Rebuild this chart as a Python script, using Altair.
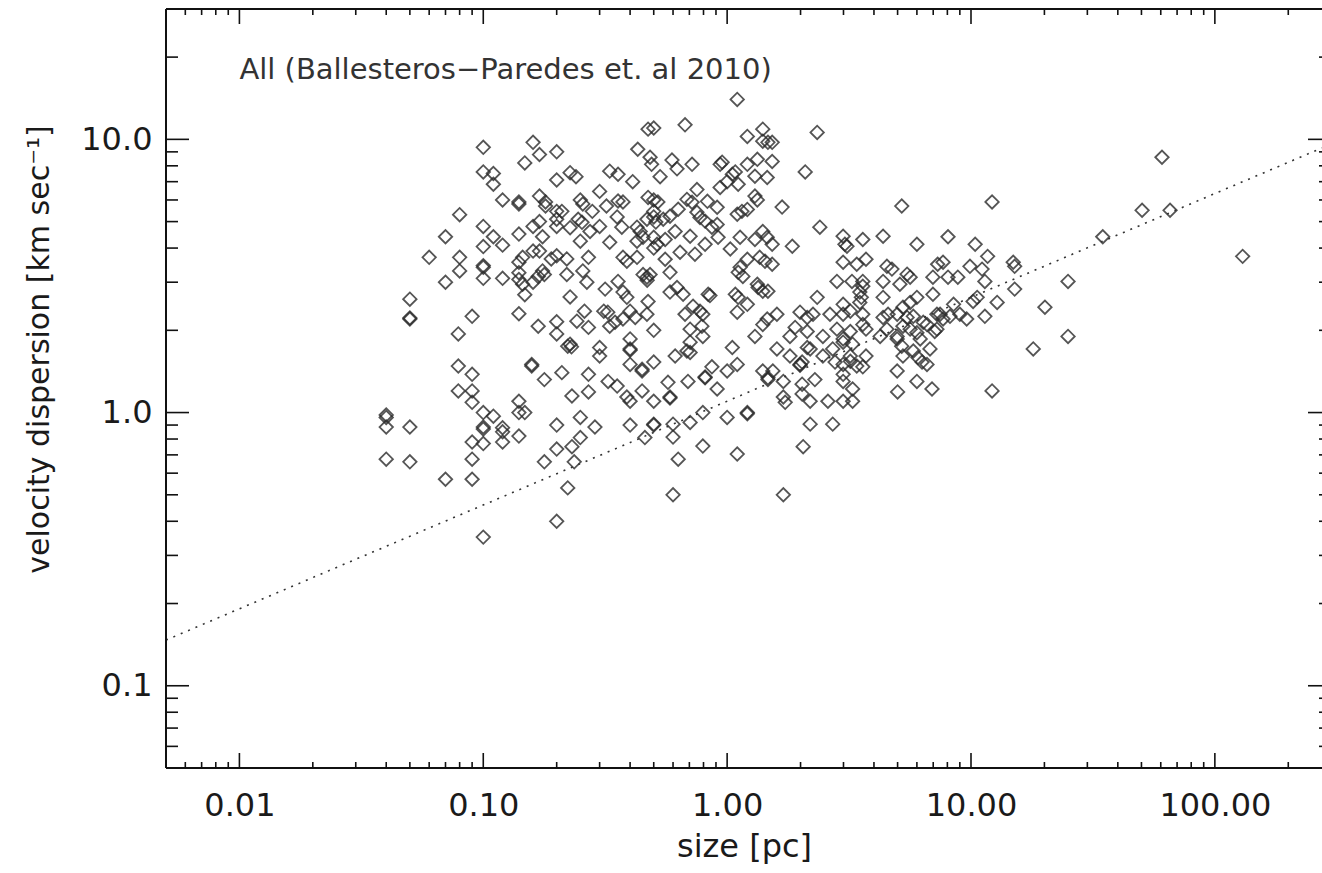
import altair as alt
import pandas as pd

# Molecular-cloud size / linewidth measurements: (size [pc], sigma [km/s])
clouds_sub_01pc = [
    (0.04, 0.98), (0.04, 0.96), (0.04, 0.885), (0.04, 0.675),
    (0.05, 2.6), (0.05, 2.22), (0.05, 2.2), (0.05, 0.885), (0.05, 0.66),
    (0.06, 3.7), (0.07, 4.4), (0.07, 3.0), (0.07, 0.57),
    (0.08, 5.3), (0.08, 3.7), (0.08, 3.3), (0.079, 1.94), (0.079, 1.48), (0.079, 1.2),
    (0.09, 1.2), (0.09, 1.09), (0.09, 1.38), (0.09, 2.25), (0.09, 0.78), (0.09, 0.675), (0.09, 0.57),
]

clouds_01_03pc = [
    (0.1, 9.35), (0.1, 7.6), (0.1, 4.8), (0.1, 4.05), (0.1, 3.45), (0.1, 3.4), (0.1, 3.1),
    (0.1, 1.0), (0.1, 0.885), (0.1, 0.87), (0.1, 0.77), (0.1, 0.35),
    (0.11, 7.5), (0.11, 6.85), (0.11, 4.4), (0.12, 4.1), (0.11, 0.97), (0.12, 6.0), (0.12, 3.1),
    (0.12, 0.88), (0.12, 0.85), (0.12, 0.78),
    (0.14, 5.9), (0.14, 5.8), (0.14, 4.5), (0.14, 3.55), (0.145, 3.7), (0.14, 3.25), (0.14, 3.07),
    (0.145, 2.95), (0.14, 2.3), (0.14, 1.1), (0.14, 1.0), (0.148, 1.0), (0.14, 0.82), (0.148, 8.2),
    (0.148, 2.7),
    (0.16, 9.75), (0.16, 4.8), (0.16, 3.9), (0.16, 3.0), (0.158, 1.48), (0.158, 1.5),
    (0.17, 8.8), (0.17, 6.2), (0.18, 5.9), (0.18, 5.7), (0.17, 5.0), (0.175, 4.4), (0.17, 3.9),
    (0.175, 3.3), (0.168, 3.15), (0.178, 3.2), (0.168, 2.07), (0.178, 1.32), (0.178, 0.66),
    (0.19, 3.65), (0.2, 9.0), (0.2, 7.1), (0.2, 5.45), (0.2, 5.1), (0.2, 4.8), (0.2, 3.75),
    (0.2, 2.15), (0.2, 1.94), (0.2, 0.9), (0.2, 0.735), (0.2, 0.4),
    (0.21, 5.45), (0.21, 1.4), (0.22, 3.2), (0.22, 3.65), (0.227, 7.55), (0.24, 7.3), (0.227, 4.75),
    (0.227, 2.65), (0.227, 1.78), (0.222, 1.75), (0.23, 1.74),
    (0.245, 5.1), (0.254, 4.97), (0.25, 6.0), (0.256, 5.8), (0.242, 2.16), (0.231, 1.15),
    (0.25, 4.24), (0.25, 0.96), (0.25, 0.81), (0.231, 0.75), (0.236, 0.66), (0.222, 0.53),
    (0.256, 3.3), (0.266, 3.0), (0.26, 2.35), (0.27, 3.7), (0.27, 2.05), (0.27, 1.38), (0.27, 1.19),
    (0.274, 4.6), (0.28, 5.45), (0.287, 0.885),
]

clouds_03_1pc = [
    (0.3, 6.45), (0.3, 4.8), (0.316, 2.83), (0.312, 2.35), (0.324, 2.33), (0.3, 1.73), (0.3, 1.61),
    (0.32, 5.7), (0.325, 1.3), (0.33, 7.65), (0.33, 4.2), (0.33, 2.07), (0.347, 2.14), (0.354, 5.2),
    (0.354, 1.25), (0.357, 7.45), (0.357, 5.95), (0.374, 5.9), (0.357, 3.02), (0.37, 4.77),
    (0.374, 3.7), (0.388, 3.58), (0.374, 2.76), (0.388, 2.64), (0.374, 2.2), (0.388, 1.14),
    (0.4, 1.1), (0.4, 2.35), (0.4, 1.86), (0.4, 1.71), (0.4, 1.69), (0.4, 1.5), (0.4, 0.9),
    (0.41, 7.0), (0.42, 2.23), (0.427, 4.77), (0.44, 4.6), (0.427, 4.24), (0.452, 4.38),
    (0.427, 3.7), (0.43, 9.2), (0.448, 1.44), (0.448, 1.42), (0.448, 1.2), (0.452, 3.2),
    (0.469, 3.13), (0.483, 3.2), (0.47, 3.05), (0.46, 0.81), (0.469, 5.1), (0.5, 5.2), (0.51, 4.98),
    (0.469, 2.29), (0.474, 10.9), (0.5, 11.0), (0.483, 8.6), (0.49, 8.1), (0.474, 6.13), (0.5, 6.0),
    (0.474, 2.55), (0.5, 4.38), (0.5, 4.0), (0.516, 4.13), (0.557, 4.3), (0.5, 2.0), (0.5, 1.53),
    (0.5, 1.1), (0.5, 0.907), (0.5, 0.9), (0.5, 5.45), (0.52, 5.9),
    (0.672, 11.3), (0.594, 8.4), (0.623, 7.8), (0.531, 7.3), (0.718, 8.1), (0.936, 8.1),
    (0.954, 8.25), (0.936, 6.67), (0.752, 6.55), (0.684, 6.03), (0.718, 5.89), (0.83, 5.93),
    (0.91, 5.64), (0.63, 5.55), (0.583, 5.23), (0.547, 5.1), (0.752, 5.41), (0.774, 5.18),
    (0.812, 5.02), (0.866, 4.77), (0.91, 4.88), (0.612, 4.6), (0.705, 4.42), (0.812, 4.13),
    (0.918, 4.38), (0.557, 3.64), (0.641, 3.86), (0.738, 3.8), (0.583, 3.26), (0.583, 2.76),
    (0.623, 2.87), (0.66, 2.71), (0.836, 2.71), (0.85, 2.68), (0.725, 2.45), (0.774, 2.35),
    (0.795, 2.29), (0.672, 2.29), (0.705, 2.02), (0.788, 2.07), (0.795, 1.9), (0.705, 1.81),
    (0.684, 1.68), (0.705, 1.66), (0.612, 1.61), (0.866, 1.47), (0.812, 1.35), (0.812, 1.34),
    (0.572, 1.29), (0.691, 1.3), (0.91, 1.22), (0.583, 1.14), (0.583, 1.13), (0.795, 1.0),
    (0.6, 0.907), (0.6, 0.813), (0.705, 0.92), (0.795, 0.754), (0.63, 0.675), (0.6, 0.5),
]

clouds_1_10pc = [
    (1.1, 14.0), (1.21, 10.25), (1.4, 10.9), (1.4, 9.85), (1.47, 9.75), (1.53, 9.75), (2.34, 10.6),
    (1.21, 8.1), (1.33, 8.45), (1.53, 8.3), (1.3, 7.33), (1.46, 7.25), (2.09, 7.6), (1.0, 7.0),
    (1.05, 7.45), (1.08, 7.6), (1.11, 6.85), (1.3, 6.2), (1.33, 6.0), (1.68, 5.65), (5.2, 5.7),
    (1.1, 5.32), (1.15, 5.45), (1.21, 5.54), (1.13, 4.38), (1.3, 4.3), (1.4, 4.6), (1.46, 4.38),
    (1.53, 4.13), (1.85, 4.06), (2.4, 4.77), (2.99, 4.42), (3.04, 4.13), (3.1, 4.06), (3.6, 4.3),
    (4.36, 4.42), (6.0, 4.13), (1.03, 3.97), (1.21, 3.64), (1.36, 3.7), (1.43, 3.58), (1.53, 3.49),
    (2.99, 3.55), (3.4, 3.49), (3.71, 3.64), (4.52, 3.43), (4.74, 3.35), (5.47, 3.21), (5.63, 3.13),
    (6.98, 3.13), (7.3, 3.49), (1.11, 3.26), (1.13, 3.4), (1.16, 3.15), (1.33, 2.95), (1.34, 2.87),
    (1.4, 2.78), (1.47, 2.78), (2.82, 3.02), (3.25, 3.02), (3.6, 3.02), (3.6, 2.9), (3.5, 2.76),
    (3.55, 2.64), (3.5, 2.53), (4.36, 3.02), (5.11, 2.95), (4.36, 2.64), (1.08, 2.71), (1.11, 2.64),
    (1.21, 2.49), (1.1, 2.33), (1.6, 2.29), (1.99, 2.33), (2.34, 2.64), (2.64, 2.29), (2.99, 2.49),
    (3.2, 2.35), (3.6, 2.29), (4.57, 2.29), (5.26, 2.43), (5.63, 2.53), (6.0, 2.64), (6.98, 2.71),
    (7.25, 2.29),
    (1.46, 2.2), (2.13, 2.23), (2.25, 2.29), (2.99, 2.29), (4.36, 2.23), (4.98, 2.29), (5.47, 2.23),
    (5.8, 2.25), (6.37, 2.14), (7.25, 2.02), (1.3, 1.9), (1.4, 2.1), (1.81, 1.9), (1.9, 2.05),
    (2.13, 1.98), (2.47, 1.9), (2.82, 2.02), (2.99, 1.86), (3.2, 1.98), (3.6, 2.1), (3.71, 2.02),
    (4.24, 1.9), (4.52, 2.02), (4.98, 1.9), (5.26, 2.07), (5.63, 2.02), (6.0, 1.96), (6.19, 1.86),
    (6.6, 2.1), (7.1, 1.98),
    (1.05, 1.73), (1.6, 1.71), (2.13, 1.73), (2.19, 1.71), (2.47, 1.61), (1.81, 1.61), (2.03, 1.53),
    (1.99, 1.5), (2.71, 1.71), (2.99, 1.81), (3.27, 1.78), (3.71, 1.61), (3.2, 1.61), (2.77, 1.53),
    (2.99, 1.5), (3.2, 1.54), (3.4, 1.48), (3.6, 1.47), (4.98, 1.86), (5.2, 1.75), (5.26, 1.61),
    (5.8, 1.68), (6.06, 1.59), (6.3, 1.53), (6.6, 1.5), (6.79, 1.71), (1.0, 1.42), (1.1, 1.5),
    (1.4, 1.42), (1.47, 1.32), (1.47, 1.34), (1.54, 1.42), (1.7, 1.3), (1.99, 1.49), (2.29, 1.32),
    (2.03, 1.27), (2.99, 1.38), (2.99, 1.3), (3.27, 1.22), (4.98, 1.42), (5.0, 1.19), (6.0, 1.3),
    (6.92, 1.22), (1.7, 1.14), (1.73, 1.09), (2.03, 1.17), (2.19, 1.1), (2.59, 1.1), (2.99, 1.1),
    (3.27, 1.1), (1.0, 0.96), (1.21, 1.0), (1.21, 0.99), (2.19, 0.907), (2.71, 0.907), (1.1, 0.705),
    (2.05, 0.75), (1.7, 0.5),
    (8.05, 4.4), (7.68, 3.55), (9.9, 3.43), (8.05, 3.13), (8.83, 3.13), (8.48, 2.49), (7.47, 2.29),
    (9.0, 2.29), (7.68, 2.2), (8.2, 2.25), (9.6, 2.2),
]

clouds_above_10pc = [
    (60.7, 8.6), (12.2, 5.9), (50.3, 5.5), (65.5, 5.5), (34.7, 4.4), (130.0, 3.73), (10.4, 4.13),
    (11.7, 3.73), (11.1, 3.35), (14.9, 3.55), (15.1, 3.43), (11.4, 3.02), (15.1, 2.83), (25.0, 3.02),
    (10.2, 2.55), (10.6, 2.64), (12.8, 2.53), (20.1, 2.43), (11.4, 2.25), (25.0, 1.9), (18.0, 1.71),
    (12.2, 1.2),
]

# Larson relation drawn as a dotted guide across the panel
larson_size = [0.005, 275.0]
larson_sigma = [0.147, 9.30]

# Axis ticks (IDL style: inward, mirrored on all sides)
x_major = [0.01, 0.1, 1, 10, 100]
x_minor = [0.006, 0.007, 0.008, 0.009,
           0.02, 0.03, 0.04, 0.05, 0.06, 0.07, 0.08, 0.09,
           0.2, 0.3, 0.4, 0.5, 0.6, 0.7, 0.8, 0.9,
           2, 3, 4, 5, 6, 7, 8, 9,
           20, 30, 40, 50, 60, 70, 80, 90, 200]
y_major = [0.1, 1, 10]
y_minor = [0.06, 0.07, 0.08, 0.09,
           0.2, 0.3, 0.4, 0.5, 0.6, 0.7, 0.8, 0.9,
           2, 3, 4, 5, 6, 7, 8, 9, 20]

annotation = "All (Ballesteros\u2212Paredes et. al 2010)"

W, H = 1156, 759
FONT = "DejaVu Sans"
INK = "#1a1a1a"

rows = (clouds_sub_01pc + clouds_01_03pc + clouds_03_1pc
        + clouds_1_10pc + clouds_above_10pc)
clouds = pd.DataFrame(rows, columns=["size", "sigma"])
larson = pd.DataFrame({"size": larson_size, "sigma": larson_sigma})

xs = alt.Scale(type="log", domain=[0.005, 275], nice=False)
ys = alt.Scale(type="log", domain=[0.05, 30], nice=False)

# one shared axis definition per channel, reused by every layer
x_axis = alt.Axis(values=x_major, format=".2f", ticks=False, domain=False, grid=False,
                  labelFont=FONT, labelFontSize=32, labelColor=INK, labelPadding=22,
                  labelFlush=False, labelOverlap=False,
                  title="size [pc]", titleFont=FONT, titleFontSize=32,
                  titleFontWeight="normal", titleColor=INK, titlePadding=10)
y_axis = alt.Axis(values=y_major, format=".1f", ticks=False, domain=False, grid=False,
                  labelFont=FONT, labelFontSize=32, labelColor=INK, labelPadding=14,
                  labelFlush=False, labelOverlap=False,
                  title="velocity dispersion [km sec\u207b\u00b9]", titleFont=FONT,
                  titleFontSize=30, titleFontWeight="normal", titleColor=INK,
                  titlePadding=26, titleY=340)


def X(field):
    return alt.X(field, scale=xs, axis=x_axis)


def Y(field):
    return alt.Y(field, scale=ys, axis=y_axis)


points = alt.Chart(clouds).mark_point(
    shape="diamond", size=180, filled=False, color="#2b2b2b",
    strokeWidth=1.8, opacity=0.8
).encode(x=X("size:Q"), y=Y("sigma:Q"))

fit = alt.Chart(larson).mark_line(
    color="#333333", strokeWidth=1.6, strokeDash=[2, 6]
).encode(x=X("size:Q"), y=Y("sigma:Q"))

label = alt.Chart(pd.DataFrame({"size": [0.01], "sigma": [18.0], "t": [annotation]})).mark_text(
    align="left", baseline="middle", font=FONT, fontSize=29, color="#333333"
).encode(x=X("size:Q"), y=Y("sigma:Q"), text="t:N")

xt_major = pd.DataFrame({"v": x_major})
xt_minor = pd.DataFrame({"v": x_minor})
yt_major = pd.DataFrame({"v": y_major})
yt_minor = pd.DataFrame({"v": y_minor})

rule = dict(color="#111111", strokeWidth=1.6)


def xticks(df, length):
    bottom = alt.Chart(df).mark_rule(**rule).encode(
        x=X("v:Q"), y=alt.value(H), y2=alt.value(H - length))
    top = alt.Chart(df).mark_rule(**rule).encode(
        x=X("v:Q"), y=alt.value(0), y2=alt.value(length))
    return [bottom, top]


def yticks(df, length):
    left = alt.Chart(df).mark_rule(**rule).encode(
        y=Y("v:Q"), x=alt.value(0), x2=alt.value(length))
    # right-hand frame sits just past the visible panel edge
    right = alt.Chart(df).mark_rule(**rule).encode(
        y=Y("v:Q"), x=alt.value(W + 9 - length), x2=alt.value(W))
    return [left, right]


frame_src = pd.DataFrame({"k": [0]})
frame = [
    alt.Chart(frame_src).mark_rule(color="#111111", strokeWidth=2).encode(
        x=alt.value(0), y=alt.value(0), y2=alt.value(H)),
    alt.Chart(frame_src).mark_rule(color="#111111", strokeWidth=2).encode(
        x=alt.value(0), x2=alt.value(W), y=alt.value(0)),
    alt.Chart(frame_src).mark_rule(color="#111111", strokeWidth=2).encode(
        x=alt.value(0), x2=alt.value(W), y=alt.value(H)),
]

layers = ([points, fit, label] + xticks(xt_major, 15) + xticks(xt_minor, 6)
          + yticks(yt_major, 23) + yticks(yt_minor, 12) + frame)

chart = alt.layer(*layers).properties(
    width=W, height=H,
    padding={"left": 166, "top": 9, "right": 0, "bottom": 105},
    autosize=alt.AutoSizeParams(type="none"),
    background="white",
).configure_view(stroke=None)

chart.save("out.html", embed_options={"renderer": "svg", "actions": False})
